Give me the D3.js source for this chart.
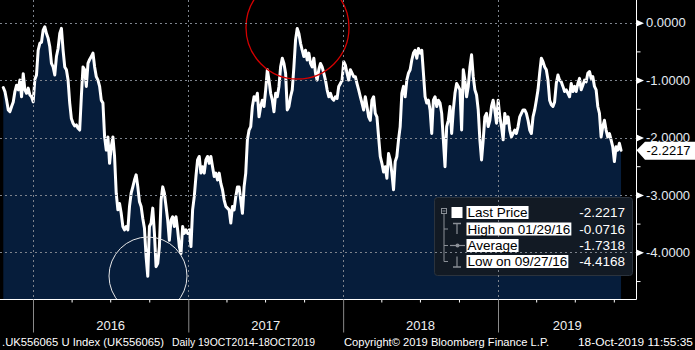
<!DOCTYPE html>
<html><head><meta charset="utf-8">
<script src="https://cdn.jsdelivr.net/npm/d3@7/dist/d3.min.js"></script>
<style>
html,body{margin:0;padding:0;background:#000;}
svg{display:block;}
text{font-family:"Liberation Sans",Arial,sans-serif;}
</style></head>
<body>
<svg id="chart" width="695" height="350"></svg>
<script>
// ---- data ----
const startDate = "2015-10-23";
const endDate = "2019-10-18";
const values = [
-1.13,-1.20,-1.35,-1.52,-1.55,-1.46,-1.38,-1.20,-1.09,-1.17,-1.00,-1.29,-0.89,-1.17,-1.23,-1.14,-1.26,-1.29,-1.38,-0.99,
-0.91,-0.48,-0.36,-0.34,-0.13,-0.0716,-0.19,-0.27,-0.42,-0.71,-0.77,-0.91,-0.59,-0.45,-0.19,-0.10,-0.48,-0.77,-0.82,-1.00,
-1.40,-1.67,-1.75,-1.80,-1.78,-1.84,-1.87,-1.29,-0.77,-0.82,-1.11,-0.71,-0.64,-0.59,-0.53,-0.77,-0.94,-1.00,-1.11,-1.35,
-1.40,-1.99,-2.22,-1.99,-2.45,-2.16,-1.99,-2.33,-2.97,-3.26,-3.15,-3.32,-3.55,-3.61,-3.55,-3.61,-3.20,-2.97,-2.86,-2.74,
-2.65,-2.86,-3.12,-3.20,-3.41,-3.58,-4.08,-4.4168,-3.55,-3.49,-3.23,-3.67,-4.25,-4.19,-3.90,-3.09,-2.86,-2.97,-3.20,-3.44,
-3.79,-3.44,-3.38,-3.55,-3.38,-3.61,-3.90,-4.02,-3.55,-3.67,-3.61,-3.67,-3.61,-3.90,-3.26,-3.03,-2.68,-2.39,-2.33,-2.62,
-2.51,-2.62,-2.39,-2.33,-2.45,-2.33,-2.51,-2.68,-2.62,-2.74,-2.62,-2.80,-2.91,-3.09,-3.20,-3.23,-3.26,-3.49,-3.20,-3.26,
-3.03,-2.86,-2.86,-3.09,-3.32,-2.86,-2.62,-2.04,-1.87,-1.81,-1.46,-1.29,-1.35,-1.23,-1.64,-1.46,-1.35,-1.46,-1.17,-0.82,
-1.00,-1.23,-1.35,-1.55,-1.23,-1.29,-1.11,-0.77,-0.62,-0.71,-0.88,-1.52,-1.46,-1.29,-1.17,-0.77,-0.30,-0.10,-0.19,-0.36,
-0.48,-0.59,-0.48,-0.65,-0.53,-0.71,-0.77,-0.62,-0.88,-1.00,-0.82,-0.71,-0.77,-0.88,-1.00,-1.17,-1.29,-1.23,-1.32,-1.35,
-1.29,-1.32,-1.11,-1.06,-1.00,-0.68,-0.74,-0.88,-1.00,
-0.82,-0.88,-0.94,-0.94,-1.06,-1.17,-1.29,-1.40,-1.52,-1.29,-1.46,-1.64,-1.70,-1.35,-1.29,-1.58,-1.64,-1.99,-2.33,-2.45,
-2.60,-2.51,-2.71,-2.28,-2.39,-2.62,-2.91,-2.42,-2.33,-2.04,-1.81,-1.23,-1.11,-1.29,-1.00,-0.88,-0.82,-0.65,-0.53,-0.48,
-0.62,-0.45,-0.53,-0.48,-0.88,-1.29,-1.40,-1.35,-1.52,-1.93,-1.35,-1.29,-1.46,-1.35,-1.40,-1.58,-2.04,-2.51,-1.81,-1.70,
-1.46,-1.93,-1.52,-1.23,-1.06,-1.11,-1.17,-1.87,-0.82,-1.00,-1.29,
-1.11,-0.77,-0.56,-0.94,-1.17,-1.26,-1.52,-2.04,-2.39,-2.04,-1.64,-1.58,-1.81,-1.70,-1.46,-1.35,-1.52,-1.75,-1.35,-1.64,
-1.81,-2.04,-1.58,-1.75,-1.64,-1.87,-1.99,-1.93,-1.87,-1.93,-1.81,-1.64,-1.58,-1.52,-1.52,-1.58,-1.70,-1.87,-1.93,-1.64,
-1.52,-1.35,-1.17,-0.88,-0.62,-0.68,-0.77,-0.82,-1.00,-1.35,-1.43,-1.46,-1.38,-1.06,-0.91,-1.00,-1.03,-1.11,-1.20,-1.17,
-1.23,-1.29,-1.06,-1.20,-1.11,-1.20,-1.06,-0.97,-1.17,-1.09,-1.00,-1.03,-0.88,-0.85,-0.97,-0.94,-1.11,-1.17,-1.46,-1.58,
-1.99,-1.81,-1.70,-1.87,-1.99,-1.93,-2.04,-2.16,-2.42,-2.16,-2.22,-2.10,-2.2217
];
const yTickValues = [0, -1, -2, -3, -4];
const yTickLabels = ["0.0000", "-1.0000", "-2.0000", "-3.0000", "-4.0000"];
const yMinorValues = [-0.5, -1.5, -2.5, -3.5, -4.5];
const yearStarts = ["2016-01-01", "2017-01-01", "2018-01-01", "2019-01-01"];
const yearLabels = ["2016", "2017", "2018", "2019"];
const quarterTicks = ["2016-04-01","2016-07-01","2016-10-01","2017-04-01","2017-07-01","2017-10-01",
  "2018-04-01","2018-07-01","2018-10-01","2019-04-01","2019-07-01","2019-10-01"];
const legendLabels = ["Last Price", "High on 01/29/16", "Average", "Low on 09/27/16"];
const legendValues = ["-2.2217", "-0.0716", "-1.7318", "-4.4168"];
const lastValue = -2.2217;
const lastLabel = "-2.2217";
const footerTexts = [".UK556065 U Index (UK556065)", "Daily 19OCT2014-18OCT2019",
  "Copyright\u00A9 2019 Bloomberg Finance L.P.", "18-Oct-2019 11:55:35"];

// ---- setup ----
const parse = d3.utcParse("%Y-%m-%d");
const t0 = parse(startDate).getTime(), t1 = parse(endDate).getTime();
const data = values.map((v, i) => ({date: new Date(t0 + (t1 - t0) * i / (values.length - 1)), value: v}));

const svg = d3.select("#chart");
const W = 695, H = 350;
const plotRight = 636.5, plotBottom = 299.5;

const x = d3.scaleUtc().domain([parse("2016-01-01"), parse("2019-01-01")]).range([33, 498]);
const y = d3.scaleLinear().domain([0, -4]).range([22.67, 252.33]);

svg.append("rect").attr("width", W).attr("height", H).attr("fill", "#000");

const defs = svg.append("defs");
defs.append("clipPath").attr("id", "plotclip").append("rect")
  .attr("x", 0).attr("y", 0).attr("width", plotRight).attr("height", plotBottom);

const plot = svg.append("g").attr("clip-path", "url(#plotclip)");

// area fill
plot.append("path").datum(data)
  .attr("fill", "#061d3b")
  .attr("d", d3.area().x(d => x(d.date)).y0(plotBottom).y1(d => y(d.value)));

// legend box (under the grid)
const lg = {x: 434, y: 197, w: 198, h: 78};
svg.append("rect").attr("x", lg.x + 0.5).attr("y", lg.y + 0.5).attr("width", lg.w).attr("height", lg.h)
  .attr("rx", 3).attr("fill", "#121a24").attr("stroke", "#2b333d").attr("stroke-width", 1);

// gridlines
const grid = svg.append("g").attr("stroke", "#7d838c").attr("stroke-width", 1).attr("stroke-dasharray", "2,3");
grid.selectAll("line.h").data(yTickValues).join("line")
  .attr("x1", 0).attr("x2", plotRight - 1)
  .attr("y1", d => Math.round(y(d)) + 0.5).attr("y2", d => Math.round(y(d)) + 0.5);
grid.selectAll("line.v").data(yearStarts.map(parse)).join("line")
  .attr("y1", 0).attr("y2", plotBottom)
  .attr("x1", d => Math.round(x(d)) + 0.5).attr("x2", d => Math.round(x(d)) + 0.5);

// price line
plot.append("path").datum(data)
  .attr("fill", "none").attr("stroke", "#fff").attr("stroke-width", 3)
  .attr("stroke-linejoin", "round").attr("stroke-linecap", "round")
  .attr("d", d3.line().x(d => x(d.date)).y(d => y(d.value)));

// circles annotating high / low areas
plot.append("circle").attr("cx", 297.5).attr("cy", 27.5).attr("r", 51.5)
  .attr("fill", "none").attr("stroke", "#d40000").attr("stroke-width", 1.3);
plot.append("circle").attr("cx", 148).attr("cy", 276).attr("r", 39)
  .attr("fill", "none").attr("stroke", "#e8e8e8").attr("stroke-width", 1);

// axes frame
svg.append("line").attr("x1", 0).attr("x2", plotRight).attr("y1", plotBottom).attr("y2", plotBottom)
  .attr("stroke", "#fff").attr("stroke-width", 1);
svg.append("line").attr("x1", plotRight).attr("x2", plotRight).attr("y1", 0).attr("y2", plotBottom)
  .attr("stroke", "#fff").attr("stroke-width", 1);

// bottom axis: year ticks (long grey)
const xMajor = svg.append("g").attr("transform", `translate(0,${plotBottom})`)
  .call(d3.axisBottom(x).tickValues(yearStarts.map(parse)).tickSize(33).tickFormat(""));
xMajor.select(".domain").remove();
xMajor.selectAll(".tick line").attr("stroke", "#8a8a8a");
// bottom axis: quarter ticks (short white)
const xMinor = svg.append("g").attr("transform", `translate(0,${plotBottom})`)
  .call(d3.axisBottom(x).tickValues(quarterTicks.map(parse)).tickSize(3).tickFormat(""));
xMinor.select(".domain").remove();
xMinor.selectAll(".tick line").attr("stroke", "#fff");

// year labels centred in each year span
const yearsParsed = yearStarts.map(parse);
svg.append("g").selectAll("text").data(yearLabels).join("text")
  .attr("x", (d, i) => {
    const a = x(yearsParsed[i]);
    const b = i < yearsParsed.length - 1 ? x(yearsParsed[i + 1]) : plotRight;
    return (a + b) / 2;
  })
  .attr("y", 330).attr("text-anchor", "middle").attr("fill", "#f0f0f0")
  .attr("font-size", 13).text(d => d);

// right axis: minor ticks
const yMinor = svg.append("g").attr("transform", `translate(${plotRight},0)`)
  .call(d3.axisRight(y).tickValues(yMinorValues).tickSize(4).tickFormat(""));
yMinor.select(".domain").remove();
yMinor.selectAll(".tick line").attr("stroke", "#fff");
// right axis: major ticks with triangle markers
const yMajor = svg.append("g").attr("transform", `translate(${plotRight},0)`)
  .call(d3.axisRight(y).tickValues(yTickValues).tickSize(0).tickPadding(10)
    .tickFormat((d, i) => yTickLabels[i]));
yMajor.select(".domain").remove();
yMajor.selectAll(".tick").append("path").attr("d", "M0.5,-3.2L0.5,3.2L7.5,0Z").attr("fill", "#fff");
yMajor.selectAll(".tick text").attr("fill", "#e4ebf3").attr("font-size", 13)
  .attr("font-family", "'Liberation Sans',Arial,sans-serif").attr("x", 9.5);

// last price tag
const ly = y(lastValue);
svg.append("path")
  .attr("d", `M${plotRight},${ly}L${plotRight + 8.5},${ly - 8.5}L${W},${ly - 8.5}L${W},${ly + 9.5}L${plotRight + 8.5},${ly + 9.5}Z`)
  .attr("fill", "#fff");
svg.append("text").attr("x", plotRight + 10).attr("y", ly + 0.5).attr("dy", "0.36em")
  .attr("fill", "#000").attr("font-size", 13).text(lastLabel);

// legend content
const rowY = [212.5, 229, 245.5, 261.5];
const lgG = svg.append("g");
const ic = "#8a8f96";
lgG.append("rect").attr("x", 441.5).attr("y", 208.5).attr("width", 5).attr("height", 5)
  .attr("fill", "none").attr("stroke", ic);
lgG.append("line").attr("x1", 442.5).attr("x2", 445.5).attr("y1", 211).attr("y2", 211).attr("stroke", ic);
lgG.append("line").attr("x1", 444).attr("x2", 444).attr("y1", 214).attr("y2", rowY[3]).attr("stroke", ic);
lgG.selectAll("line.br").data(rowY.slice(1)).join("line")
  .attr("x1", 444).attr("x2", 448).attr("y1", d => d).attr("y2", d => d).attr("stroke", ic);
lgG.append("rect").attr("x", 451.5).attr("y", rowY[0] - 5.5).attr("width", 11).attr("height", 11).attr("fill", "#fff");
lgG.append("line").attr("x1", 453).attr("x2", 461).attr("y1", rowY[1] - 5.5).attr("y2", rowY[1] - 5.5).attr("stroke", ic).attr("stroke-width", 1.5);
lgG.append("line").attr("x1", 457).attr("x2", 457).attr("y1", rowY[1] - 5.5).attr("y2", rowY[1] + 5).attr("stroke", ic).attr("stroke-width", 1.2);
lgG.append("line").attr("x1", 450).attr("x2", 465).attr("y1", rowY[2]).attr("y2", rowY[2]).attr("stroke", ic).attr("stroke-width", 1.2);
lgG.append("circle").attr("cx", 457.5).attr("cy", rowY[2]).attr("r", 2).attr("fill", ic);
lgG.append("line").attr("x1", 457).attr("x2", 457).attr("y1", rowY[3] - 5).attr("y2", rowY[3] + 5.5).attr("stroke", ic).attr("stroke-width", 1.2);
lgG.append("line").attr("x1", 453).attr("x2", 461).attr("y1", rowY[3] + 5.5).attr("y2", rowY[3] + 5.5).attr("stroke", ic).attr("stroke-width", 1.5);

legendLabels.forEach((lab, i) => {
  const bg = lgG.append("rect").attr("fill", "#fff");
  const t = lgG.append("text").attr("x", 467.5).attr("y", rowY[i]).attr("dy", "0.36em")
    .attr("fill", "#000").attr("font-size", 13.5).text(lab);
  const w = t.node().getComputedTextLength();
  bg.attr("x", 466.5).attr("y", rowY[i] - 6.5).attr("width", w + 2).attr("height", 13);
});
lgG.selectAll("text.val").data(legendValues).join("text")
  .attr("x", 625).attr("y", (d, i) => rowY[i]).attr("dy", "0.36em")
  .attr("text-anchor", "end").attr("fill", "#fff").attr("font-size", 13.5).text(d => d);

// footer
const footX = [2, 172, 344, 578];
const footW = [162, 143, 205, 115];
svg.append("g").attr("font-size", 11.5).attr("fill", "#fff")
  .selectAll("text").data(footerTexts).join("text")
  .attr("x", (d, i) => footX[i]).attr("y", 346)
  .attr("textLength", (d, i) => footW[i]).attr("lengthAdjust", "spacingAndGlyphs")
  .text(d => d);
</script>
</body></html>
